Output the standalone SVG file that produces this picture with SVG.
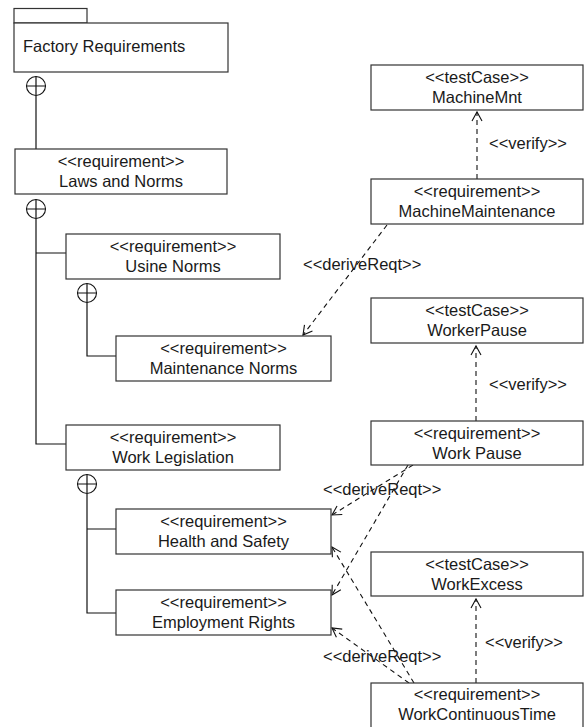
<svg xmlns="http://www.w3.org/2000/svg" width="584" height="727" viewBox="0 0 584 727">
<style>
  .box{fill:#fff;stroke:#333;stroke-width:1.2}
  .t{font-family:"Liberation Sans",Arial,Helvetica,sans-serif;font-size:16.5px;fill:#1a1a1a;text-anchor:middle}
  .tl{font-family:"Liberation Sans",Arial,Helvetica,sans-serif;font-size:16.5px;fill:#1a1a1a}
  .tree{fill:none;stroke:#111;stroke-width:1.2}
  .circ{fill:#fff;stroke:#111;stroke-width:1.1}
  .dash{fill:none;stroke:#111;stroke-width:1.1;stroke-dasharray:5,4}
</style>
<defs>
  <marker id="open" markerUnits="userSpaceOnUse" markerWidth="14" markerHeight="14" refX="0" refY="0" viewBox="-12 -7 14 14" orient="auto" overflow="visible">
    <path d="M-9,-5 L0,0 L-9,5" fill="none" stroke="#111" stroke-width="1.1" stroke-dasharray="none"/>
  </marker>
</defs>
<rect width="584" height="727" fill="#fff"/>

<g id="connectors">
  <!-- containment tree -->
  <path class="tree" d="M36,96 V149"/>
  <path class="tree" d="M36,219 V444 H66 M36,253 H66"/>
  <path class="tree" d="M87,303 V356 H116"/>
  <path class="tree" d="M87,494 V613 H116 M87,529 H116"/>
  <g>
    <circle class="circ" cx="36" cy="86" r="9.5"/><path class="tree" d="M26.5,86 H45.5 M36,76.5 V95.5"/>
  </g>
  <g>
    <circle class="circ" cx="36" cy="209" r="9.5"/><path class="tree" d="M26.5,209 H45.5 M36,199.5 V218.5"/>
  </g>
  <g>
    <circle class="circ" cx="87" cy="293" r="9.5"/><path class="tree" d="M77.5,293 H96.5 M87,283.5 V302.5"/>
  </g>
  <g>
    <circle class="circ" cx="87" cy="484" r="9.5"/><path class="tree" d="M77.5,484 H96.5 M87,474.5 V493.5"/>
  </g>
  <!-- verify -->
  <path class="dash" d="M477,179 V112" marker-end="url(#open)"/>
  <path class="dash" d="M476,421 V346" marker-end="url(#open)"/>
  <path class="dash" d="M476,683 V599" marker-end="url(#open)"/>
  <!-- deriveReqt -->
  <path class="dash" d="M387,225 L303,335" marker-end="url(#open)"/>
  <path class="dash" d="M413,465 L332,515" marker-end="url(#open)"/>
  <path class="dash" d="M408,465 L332,595" marker-end="url(#open)"/>
  <path class="dash" d="M414,683 L332,547" marker-end="url(#open)"/>
  <path class="dash" d="M409,683 L332,628" marker-end="url(#open)"/>
  <text class="tl" x="489" y="149">&lt;&lt;verify&gt;&gt;</text>
  <text class="tl" x="489" y="390">&lt;&lt;verify&gt;&gt;</text>
  <text class="tl" x="485" y="648">&lt;&lt;verify&gt;&gt;</text>
  <text class="tl" x="303" y="270">&lt;&lt;deriveReqt&gt;&gt;</text>
  <text class="tl" x="323" y="495">&lt;&lt;deriveReqt&gt;&gt;</text>
  <text class="tl" x="323" y="662">&lt;&lt;deriveReqt&gt;&gt;</text>
</g>

<g id="factory-requirements">
  <rect class="box" x="14" y="8.5" width="73" height="14.5"/>
  <rect class="box" x="14" y="23" width="214" height="49"/>
  <text class="tl" x="23" y="52">Factory Requirements</text>
</g>
<g id="laws-and-norms">
  <rect class="box" x="15" y="149" width="212" height="45"/>
  <text class="t" x="121" y="167">&lt;&lt;requirement&gt;&gt;</text>
  <text class="t" x="121" y="187">Laws and Norms</text>
</g>
<g id="usine-norms">
  <rect class="box" x="66" y="234" width="214" height="45"/>
  <text class="t" x="173" y="252">&lt;&lt;requirement&gt;&gt;</text>
  <text class="t" x="173" y="272">Usine Norms</text>
</g>
<g id="maintenance-norms">
  <rect class="box" x="116" y="336" width="215" height="45"/>
  <text class="t" x="223.5" y="354">&lt;&lt;requirement&gt;&gt;</text>
  <text class="t" x="223.5" y="374">Maintenance Norms</text>
</g>
<g id="work-legislation">
  <rect class="box" x="66" y="425" width="214" height="45"/>
  <text class="t" x="173" y="443">&lt;&lt;requirement&gt;&gt;</text>
  <text class="t" x="173" y="463">Work Legislation</text>
</g>
<g id="health-and-safety">
  <rect class="box" x="116" y="509" width="215" height="45"/>
  <text class="t" x="223.5" y="527">&lt;&lt;requirement&gt;&gt;</text>
  <text class="t" x="223.5" y="547">Health and Safety</text>
</g>
<g id="employment-rights">
  <rect class="box" x="116" y="590" width="215" height="45"/>
  <text class="t" x="223.5" y="608">&lt;&lt;requirement&gt;&gt;</text>
  <text class="t" x="223.5" y="628">Employment Rights</text>
</g>
<g id="machine-mnt">
  <rect class="box" x="371" y="65" width="212" height="45"/>
  <text class="t" x="477" y="83">&lt;&lt;testCase&gt;&gt;</text>
  <text class="t" x="477" y="103">MachineMnt</text>
</g>
<g id="machine-maintenance">
  <rect class="box" x="371" y="179" width="212" height="45"/>
  <text class="t" x="477" y="197">&lt;&lt;requirement&gt;&gt;</text>
  <text class="t" x="477" y="217">MachineMaintenance</text>
</g>
<g id="worker-pause">
  <rect class="box" x="371" y="298" width="212" height="45"/>
  <text class="t" x="477" y="316">&lt;&lt;testCase&gt;&gt;</text>
  <text class="t" x="477" y="336">WorkerPause</text>
</g>
<g id="work-pause">
  <rect class="box" x="371" y="421" width="212" height="44"/>
  <text class="t" x="477" y="439">&lt;&lt;requirement&gt;&gt;</text>
  <text class="t" x="477" y="459">Work Pause</text>
</g>
<g id="work-excess">
  <rect class="box" x="371" y="552" width="212" height="44"/>
  <text class="t" x="477" y="570">&lt;&lt;testCase&gt;&gt;</text>
  <text class="t" x="477" y="590">WorkExcess</text>
</g>
<g id="work-continuous-time">
  <rect class="box" x="371" y="683" width="212" height="50"/>
  <text class="t" x="477" y="700">&lt;&lt;requirement&gt;&gt;</text>
  <text class="t" x="477" y="720">WorkContinuousTime</text>
</g>
</svg>
